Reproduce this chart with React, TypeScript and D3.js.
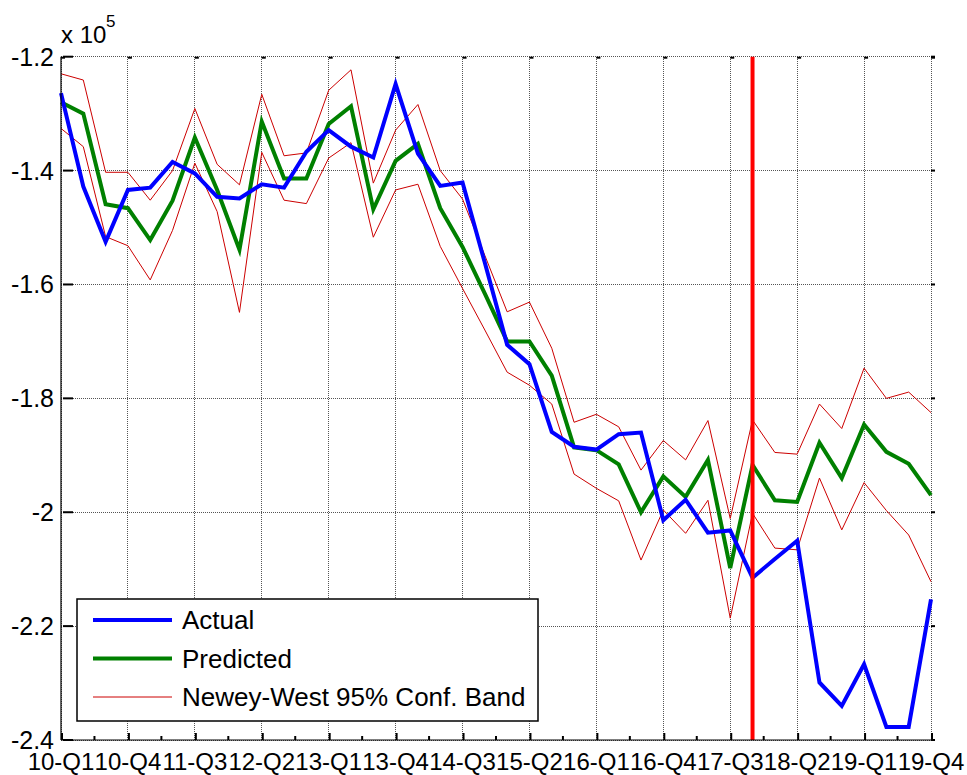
import React from "react";
import * as d3 from "d3";

// Values in units of 1 (axis shows x 10^5)
const actual = [
  -1.264, -1.428, -1.525, -1.434, -1.43, -1.385, -1.405, -1.446, -1.449, -1.424,
  -1.43, -1.367, -1.329, -1.358, -1.377, -1.248, -1.37, -1.427, -1.421, -1.562,
  -1.706, -1.74, -1.859, -1.885, -1.89, -1.863, -1.86, -2.014, -1.978, -2.036,
  -2.032, -2.115, -2.082, -2.05, -2.299, -2.34, -2.267, -2.377, -2.377, -2.153,
].map((v) => v * 1e5);

const predicted = [
  -1.28, -1.3, -1.459, -1.466, -1.522, -1.453, -1.342, -1.434, -1.539, -1.314,
  -1.414, -1.414, -1.318, -1.287, -1.468, -1.383, -1.353, -1.466, -1.534, -1.616,
  -1.7, -1.7, -1.76, -1.886, -1.891, -1.916, -2.0, -1.937, -1.973, -1.908,
  -2.098, -1.917, -1.979, -1.982, -1.878, -1.94, -1.846, -1.894, -1.915, -1.97,
].map((v) => v * 1e5);

const upperBand = [
  -1.23, -1.241, -1.403, -1.403, -1.452, -1.4, -1.291, -1.389, -1.425, -1.266,
  -1.374, -1.369, -1.259, -1.223, -1.422, -1.329, -1.284, -1.4, -1.45, -1.549,
  -1.648, -1.631, -1.712, -1.842, -1.828, -1.85, -1.926, -1.874, -1.908, -1.839,
  -2.011, -1.838, -1.895, -1.898, -1.81, -1.853, -1.747, -1.8, -1.789, -1.825,
].map((v) => v * 1e5);

const lowerBand = [
  -1.326, -1.358, -1.516, -1.532, -1.592, -1.505, -1.387, -1.472, -1.649, -1.368,
  -1.452, -1.458, -1.378, -1.351, -1.517, -1.434, -1.424, -1.533, -1.607, -1.68,
  -1.754, -1.777, -1.81, -1.933, -1.958, -1.98, -2.084, -1.996, -2.037, -1.979,
  -2.186, -2.002, -2.063, -2.066, -1.94, -2.031, -1.948, -1.997, -2.04, -2.122,
].map((v) => v * 1e5);

const xTickLabels = [
  "10-Q1", "10-Q4", "11-Q3", "12-Q2", "13-Q1", "13-Q4", "14-Q3",
  "15-Q2", "16-Q1", "16-Q4", "17-Q3", "18-Q2", "19-Q1", "19-Q4",
];
const xTickStep = 3;
const yTicks = [-1.2, -1.4, -1.6, -1.8, -2, -2.2, -2.4].map((v) => v * 1e5);
const yTickLabels = ["-1.2", "-1.4", "-1.6", "-1.8", "-2", "-2.2", "-2.4"];
const forecastStartIndex = 31;

const legendItems = [
  { label: "Actual", color: "#0000ff", width: 4 },
  { label: "Predicted", color: "#008000", width: 4 },
  { label: "Newey-West 95% Conf. Band", color: "#cc0000", width: 1 },
];

const W = 967;
const H = 775;
const L = 61;
const R = 931;
const T = 56.7;
const B = 740;
const FONT = "'Liberation Sans', Arial, Helvetica, sans-serif";

export default function App() {
  const n = actual.length;
  const x = d3.scaleLinear().domain([0, n - 1]).range([L, R]);
  const y = d3.scaleLinear().domain([-2.4e5, -1.2e5]).range([B, T]);
  const line = d3
    .line<number>()
    .x((_, i) => x(i))
    .y((d) => y(d));

  const majorIdx = xTickLabels.map((_, i) => i * xTickStep);
  const minorIdx = majorIdx.slice(0, -1).map((v) => v + xTickStep / 2);

  return (
    <svg
      width={W}
      height={H}
      style={{ position: "absolute", left: 0, top: 0, background: "#fff" }}
      fontFamily={FONT}
    >
      <rect x={0} y={0} width={W} height={H} fill="#fff" />
      {/* grid */}
      <g stroke="#555" strokeWidth={1} strokeDasharray="1 1" shapeRendering="crispEdges">
        {yTicks.map((t) => (
          <line key={"gy" + t} x1={L} x2={R} y1={y(t)} y2={y(t)} />
        ))}
        {majorIdx.map((i) => (
          <line key={"gx" + i} x1={x(i)} x2={x(i)} y1={T} y2={B} />
        ))}
      </g>

      {/* confidence band */}
      <path d={line(upperBand) || ""} fill="none" stroke="#cc0000" strokeWidth={1} />
      <path d={line(lowerBand) || ""} fill="none" stroke="#cc0000" strokeWidth={1} />
      {/* predicted */}
      <path d={line(predicted) || ""} fill="none" stroke="#008000" strokeWidth={4} />
      {/* actual */}
      <path d={line(actual) || ""} fill="none" stroke="#0000ff" strokeWidth={4} />

      {/* forecast start */}
      <line
        x1={x(forecastStartIndex)}
        x2={x(forecastStartIndex)}
        y1={T}
        y2={B}
        stroke="#ff0000"
        strokeWidth={4}
      />

      {/* axes */}
      <line x1={L} x2={L} y1={T} y2={B} stroke="#000" strokeWidth={1.2} />
      <line x1={L} x2={R} y1={B} y2={B} stroke="#000" strokeWidth={1.2} />

      {/* ticks */}
      <g stroke="#000" strokeWidth={2}>
        {yTicks.map((t) => (
          <line key={"ly" + t} x1={L + 2} x2={L + 12} y1={y(t)} y2={y(t)} />
        ))}
        {yTicks.map((t) => (
          <line key={"ry" + t} x1={R} x2={R + 4} y1={y(t)} y2={y(t)} />
        ))}
        {majorIdx.map((i) => (
          <line key={"tt" + i} x1={x(i)} x2={x(i) + 4} y1={T + 1} y2={T + 1} />
        ))}
        {majorIdx.map((i) => (
          <line key={"bt" + i} x1={x(i) + 1} x2={x(i) + 1} y1={B} y2={B - 7} />
        ))}
        {minorIdx.map((i) => (
          <line key={"mt" + i} x1={x(i)} x2={x(i)} y1={B} y2={B - 4} />
        ))}
      </g>

      {/* y tick labels */}
      {yTicks.map((t, k) => (
        <text
          key={"yl" + t}
          x={54}
          y={y(t)}
          dy="0.36em"
          textAnchor="end"
          fontSize={25}
          fill="#000"
        >
          {yTickLabels[k]}
        </text>
      ))}
      {/* x tick labels */}
      {majorIdx.map((i, k) => (
        <text key={"xl" + i} x={x(i)} y={770} textAnchor="middle" fontSize={24} fill="#000">
          {xTickLabels[k]}
        </text>
      ))}

      {/* exponent */}
      <text x={61} y={43} fontSize={24} fill="#000">
        x 10
      </text>
      <text x={106} y={27} fontSize={17} fill="#000">
        5
      </text>

      {/* legend */}
      <rect x={77} y={599} width={461} height={122} fill="#fff" stroke="#000" strokeWidth={1.5} />
      {legendItems.map((it, k) => {
        const ly = 620 + k * 38.5;
        return (
          <g key={it.label}>
            <line x1={93} x2={172} y1={ly} y2={ly} stroke={it.color} strokeWidth={it.width} />
            <text x={182} y={ly} dy="0.36em" fontSize={26} fill="#000">
              {it.label}
            </text>
          </g>
        );
      })}
    </svg>
  );
}
